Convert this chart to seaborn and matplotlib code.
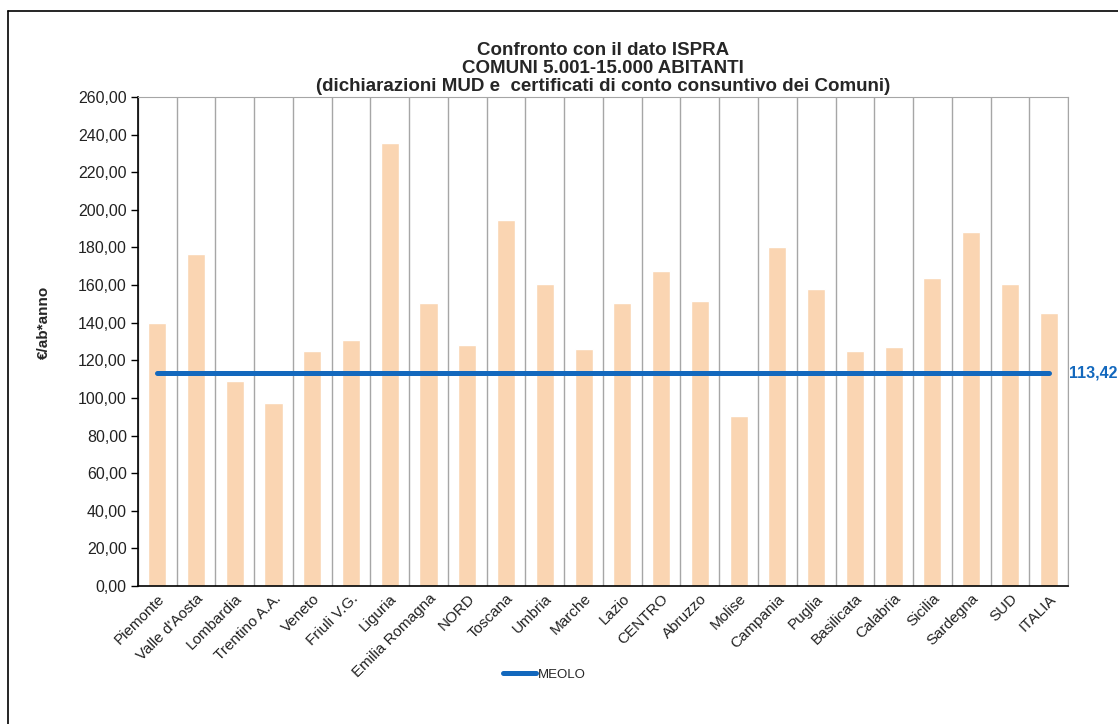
import matplotlib
matplotlib.use("Agg")
import matplotlib.pyplot as plt
from matplotlib.lines import Line2D
from matplotlib.ticker import FuncFormatter, FixedLocator
import seaborn as sns
import pandas as pd

categories = ["Piemonte", "Valle d'Aosta", "Lombardia", "Trentino A.A.", "Veneto",
              "Friuli V.G.", "Liguria", "Emilia Romagna", "NORD", "Toscana", "Umbria",
              "Marche", "Lazio", "CENTRO", "Abruzzo", "Molise", "Campania", "Puglia",
              "Basilicata", "Calabria", "Sicilia", "Sardegna", "SUD", "ITALIA"]
ispra_values = [140.0, 176.5, 109.0, 97.5, 125.0, 131.0, 235.5, 150.5, 128.0, 194.5,
                160.5, 126.0, 150.5, 167.5, 151.5, 90.5, 180.0, 158.0, 125.0, 127.0,
                164.0, 188.0, 160.5, 145.0]
meolo_value = 113.42
meolo_label = "MEOLO"

sns.set_style("white")
plt.rcParams['font.family'] = ['Liberation Sans', 'DejaVu Sans']

df = pd.DataFrame({"Regione": categories, "Costo": ispra_values})
n = len(categories)

fig = plt.figure(figsize=(11.18, 7.24), dpi=100)
ax = fig.add_axes([0.1234, 0.1906, 0.8319, 0.6754])

sns.barplot(data=df, x="Regione", y="Costo", color="#FAD5B2", saturation=1,
            width=0.47, ax=ax)
sns.lineplot(x=list(range(n)), y=[meolo_value] * n, color="#1368BD", linewidth=3.6,
             solid_capstyle="round", ax=ax)

ax.set_xlim(-0.5, n - 0.5)
ax.set_ylim(0, 260)
ax.set_yticks(range(0, 261, 20))
ax.yaxis.set_major_formatter(FuncFormatter(lambda v, p: f"{v:.2f}".replace(".", ",")))

# category boundaries: vertical grid + tick marks
ax.xaxis.set_minor_locator(FixedLocator([i - 0.5 for i in range(n + 1)]))
ax.grid(False)
ax.grid(True, which="minor", axis="x", color="#A6A6A6", linewidth=1)
ax.tick_params(axis="x", which="major", length=0, pad=4)
ax.tick_params(axis="x", which="minor", length=5, width=1, color="black", direction="out")
ax.tick_params(axis="y", length=5, width=1, color="black", direction="out", pad=3,
               labelsize=11.5, labelcolor="#222222", left=True)
ax.set_xticks(range(n))
ax.set_xticklabels(categories, rotation=45, ha="right", rotation_mode="anchor",
                   fontsize=11, color="#222222")

for side in ["top", "right"]:
    ax.spines[side].set_visible(True)
    ax.spines[side].set_color("#A6A6A6")
for side in ["left", "bottom"]:
    ax.spines[side].set_color("black")
    ax.spines[side].set_linewidth(1.2)

ax.set_xlabel("")
ax.set_ylabel("€/ab*anno", fontsize=11, fontweight="bold")
ax.yaxis.set_label_coords(-0.094, 0.54)

ax.annotate(f"{meolo_value:.2f}".replace(".", ","), xy=(1, meolo_value),
            xycoords=("axes fraction", "data"), xytext=(1, 0), textcoords="offset points",
            ha="left", va="center", color="#1368BD", fontsize=11.5, fontweight="bold")

ax.set_title("Confronto con il dato ISPRA\nCOMUNI 5.001-15.000 ABITANTI\n"
             "(dichiarazioni MUD e  certificati di conto consuntivo dei Comuni)",
             fontsize=13.5, fontweight="bold", linespacing=1.1, pad=4)

handle = Line2D([], [], color="#1368BD", linewidth=3.6)
fig.legend([handle], [meolo_label], loc="center", bbox_to_anchor=(0.487, 0.068),
           frameon=False, fontsize=9.5, handlelength=2.5, handletextpad=0.1)

# outer frame (left and top edges of the chart box)
fig.add_artist(Line2D([0.0072, 0.0072], [0, 0.985], color="black", linewidth=1.2,
                      transform=fig.transFigure))
fig.add_artist(Line2D([0.0072, 1], [0.985, 0.985], color="black", linewidth=1.2,
                      transform=fig.transFigure))

fig.savefig("out.png", dpi=100)
